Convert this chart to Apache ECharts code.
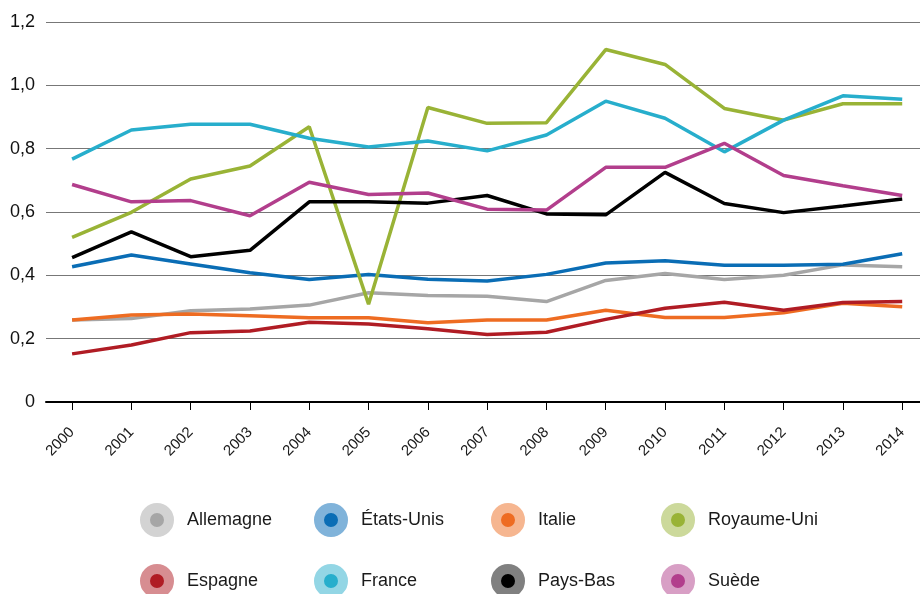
<!DOCTYPE html>
<html>
<head>
<meta charset="utf-8">
<script src="https://cdn.jsdelivr.net/npm/echarts@6/dist/echarts.min.js"></script>
<style>
  html, body { margin: 0; padding: 0; background: #fff; }
  #chart { width: 920px; height: 594px; }
</style>
</head>
<body>
<div id="chart"></div>
<script>
const years = [2000, 2001, 2002, 2003, 2004, 2005, 2006, 2007, 2008, 2009, 2010, 2011, 2012, 2013, 2014]
const yTicks = [0, 0.2, 0.4, 0.6, 0.8, 1.0, 1.2]

const allemagne = [0.259, 0.264, 0.288, 0.294, 0.306, 0.345, 0.336, 0.334, 0.317, 0.384, 0.406, 0.387, 0.400, 0.433, 0.427]
const etatsUnis = [0.427, 0.464, 0.436, 0.408, 0.387, 0.403, 0.388, 0.382, 0.403, 0.439, 0.446, 0.432, 0.432, 0.435, 0.468]
const italie = [0.259, 0.275, 0.278, 0.272, 0.266, 0.266, 0.250, 0.259, 0.259, 0.290, 0.267, 0.267, 0.282, 0.312, 0.301]
const royaumeUni = [0.520, 0.599, 0.704, 0.745, 0.869, 0.309, 0.930, 0.880, 0.882, 1.113, 1.066, 0.927, 0.890, 0.942, 0.942]
const espagne = [0.152, 0.180, 0.219, 0.224, 0.252, 0.246, 0.231, 0.213, 0.220, 0.261, 0.296, 0.315, 0.290, 0.314, 0.317]
const france = [0.767, 0.859, 0.877, 0.877, 0.833, 0.805, 0.824, 0.793, 0.843, 0.950, 0.896, 0.790, 0.890, 0.967, 0.956]
const paysBas = [0.456, 0.537, 0.459, 0.479, 0.632, 0.632, 0.628, 0.652, 0.594, 0.591, 0.725, 0.627, 0.598, 0.619, 0.641]
const suede = [0.687, 0.632, 0.636, 0.588, 0.694, 0.655, 0.660, 0.609, 0.606, 0.741, 0.741, 0.817, 0.715, 0.683, 0.652]

const names = ['Allemagne', 'États-Unis', 'Italie', 'Royaume-Uni', 'Espagne', 'France', 'Pays-Bas', 'Suède']
const values = [allemagne, etatsUnis, italie, royaumeUni, espagne, france, paysBas, suede]
const colors = ['#a6a6a6', '#0a6db5', '#ee6c22', '#99b336', '#b01c24', '#27aecc', '#000000', '#b23e8c']
const rings = ['#d3d3d3', '#80b3da', '#f6b690', '#ccd99b', '#d78d91', '#93d6e5', '#808080', '#d89fc5']

const font = 'Liberation Sans, Arial, sans-serif'

// légende : 2 lignes de 4, une légende par entrée
const legendLeft = [140, 314, 491, 661]
const legendTop = [503, 564]

const legends = names.map((n, i) => ({
    orient: 'horizontal',
    left: legendLeft[i % 4],
    top: legendTop[Math.floor(i / 4)],
    padding: 0,
    itemWidth: 24,
    itemHeight: 24,
    icon: 'circle',
    textStyle: { fontFamily: font, fontSize: 18, color: '#1a1a1a', padding: [0, 0, 0, 13] },
    data: [{
        name: n,
        itemStyle: { color: colors[i], borderColor: rings[i], borderWidth: 10 }
    }]
}))

const series = names.map((n, i) => ({
    name: n,
    type: 'line',
    symbol: 'none',
    lineStyle: { width: 3.5, color: colors[i] },
    itemStyle: { color: colors[i] },
    data: values[i].map((v, k) => [years[k], v])
}))

const myChart = echarts.init(document.getElementById('chart'))

const option = {
    animation: false,
    grid: { left: 46, right: 0, top: 22, bottom: 192 },
    legend: legends,
    xAxis: {
        type: 'value',
        min: 1999.56,
        max: 2014.3,
        splitLine: { show: false },
        axisLine: { show: true, onZero: false, lineStyle: { color: '#000', width: 2 } },
        axisTick: { show: true, customValues: years, length: 8, lineStyle: { color: '#000', width: 1 } },
        axisLabel: {
            customValues: years,
            rotate: 45,
            margin: 28,
            fontFamily: font,
            fontSize: 15,
            color: '#1a1a1a',
            formatter: v => String(Math.round(v))
        }
    },
    yAxis: {
        type: 'value',
        min: 0,
        max: 1.2,
        interval: 0.2,
        axisLine: { show: false },
        axisTick: { show: false },
        splitLine: { lineStyle: { color: '#777', width: 1 } },
        axisLabel: {
            margin: 11,
            fontFamily: font,
            fontSize: 18,
            color: '#111',
            formatter: v => {
                let t = yTicks.find(x => Math.abs(x - v) < 1e-6)
                return t === 0 ? '0' : t.toFixed(1).replace('.', ',')
            }
        }
    },
    series: series
}

myChart.setOption(option)
</script>
</body>
</html>
